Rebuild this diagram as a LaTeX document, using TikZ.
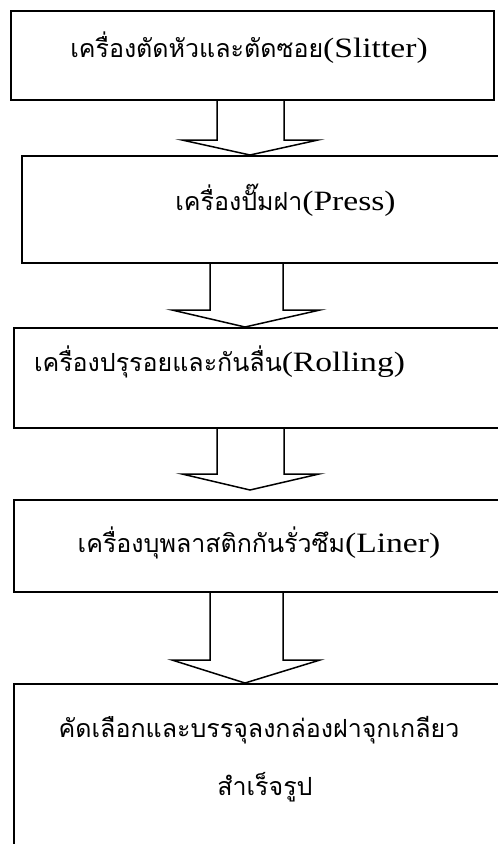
\documentclass[tikz,border=0pt]{standalone}
\usepackage{fontspec}
\setmainfont{Liberation Serif}
\newfontfamily\thaifont[Script=Thai]{Loma}
\newcommand{\thtx}[1]{{\thaifont\fontsize{25pt}{30pt}\selectfont #1}}
\newcommand{\latx}[1]{\scalebox{1.2}[1]{\fontsize{28pt}{28pt}\selectfont #1}}
\begin{document}
\begin{tikzpicture}[x=1pt,y=-1pt,
  box/.style={draw=black,line width=1.5pt,anchor=north west,inner sep=0pt},
  lbl/.style={inner sep=0pt,text=black},
  blockarrow/.style={draw=black,line width=1.5pt,line join=miter}]
\useasboundingbox (0,0) rectangle (498,844);
\clip (0,0) rectangle (498,844);
% boxes
\node[box,minimum width=483pt,minimum height=89pt] (b1) at (10,10) {};
\node[box,minimum width=500pt,minimum height=107pt] (b2) at (21,155) {};
\node[box,minimum width=510pt,minimum height=100pt] (b3) at (13,327) {};
\node[box,minimum width=510pt,minimum height=92pt] (b4) at (13,499) {};
\node[box,minimum width=510pt,minimum height=200pt] (b5) at (13,683) {};
% labels
\node[lbl] (t1) at (249,48) {\thtx{เครื่องตัดหัวและตัดซอย}\latx{(Slitter)}};
\node[lbl] (t2) at (285.5,200) {\thtx{เครื่องปั๊มฝา}\latx{(Press)}};
\node[lbl] (t3) at (219.5,362) {\thtx{เครื่องปรุรอยและกันลื่น}\latx{(Rolling)}};
\node[lbl] (t4) at (259,543) {\thtx{เครื่องบุพลาสติกกันรั่วซึม}\latx{(Liner)}};
\node[lbl] (t5) at (259,730) {\thtx{คัดเลือกและบรรจุลงกล่องฝาจุกเกลียว}};
\node[lbl] (t6) at (265,787) {\thtx{สำเร็จรูป}};
% block arrows
\draw[blockarrow] (217,99) -- (217,140) -- (182,140) -- (250,155) -- (318,140) -- (284,140) -- (284,99);
\draw[blockarrow] (210,262) -- (210,310) -- (172,310) -- (245,327) -- (320,310) -- (283,310) -- (283,262);
\draw[blockarrow] (217,427) -- (217,474) -- (182,474) -- (250,490) -- (319,474) -- (284,474) -- (284,427);
\draw[blockarrow] (210,591) -- (210,660) -- (172,660) -- (245,683) -- (320,660) -- (283,660) -- (283,591);
\end{tikzpicture}
\end{document}
